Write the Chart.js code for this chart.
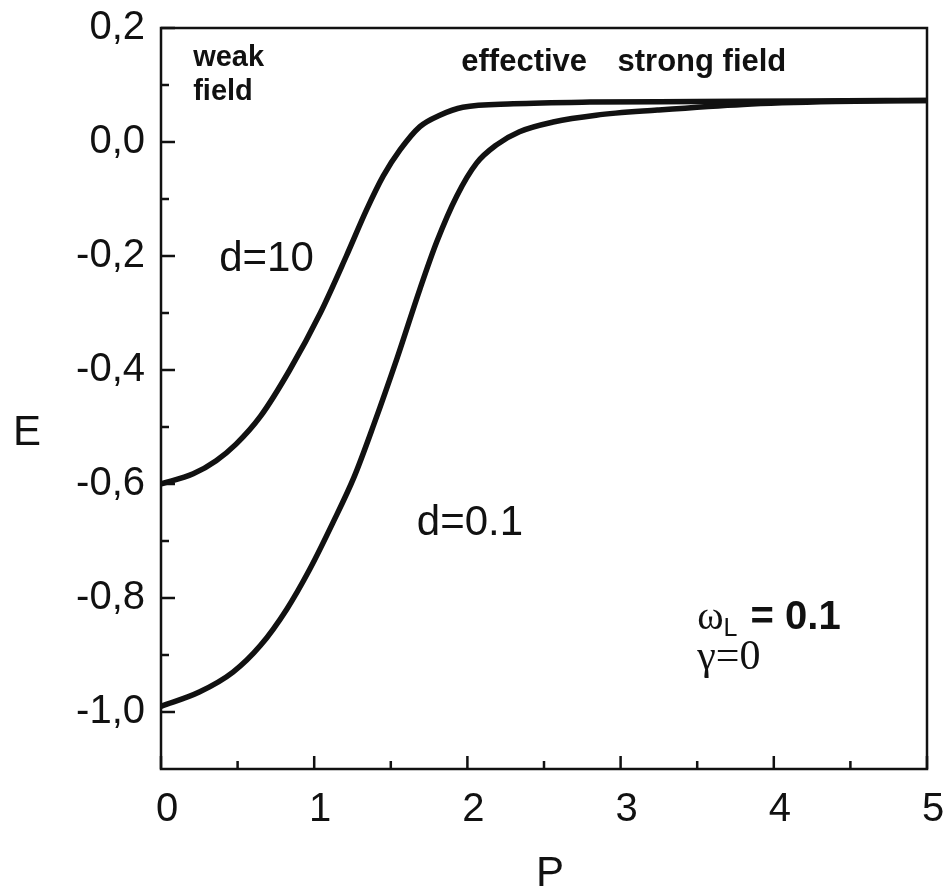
<!DOCTYPE html>
<html>
<head>
<meta charset="utf-8">
<script src="https://cdn.jsdelivr.net/npm/chart.js@4.4.1/dist/chart.umd.min.js"></script>
<style>
  html, body { margin: 0; padding: 0; background: #ffffff; }
  #wrap { width: 946px; height: 893px; }
</style>
</head>
<body>
<div id="wrap"><canvas id="energyChart" width="946" height="893"></canvas></div>
<script>
// values: E(P) for two values of d
var pD10 = [0, 0.21, 0.36, 0.49, 0.65, 0.84, 1.04, 1.21, 1.34, 1.45, 1.56, 1.69, 1.82, 1.97, 2.3, 2.8, 3.5, 4.2, 5.0];
var eD10 = [-0.60, -0.582, -0.559, -0.530, -0.481, -0.40, -0.30, -0.20, -0.12, -0.06, -0.014, 0.027, 0.047, 0.061, 0.067, 0.070, 0.071, 0.072, 0.073];

var pD01 = [0, 0.25, 0.47, 0.65, 0.82, 0.97, 1.12, 1.26, 1.39, 1.54, 1.69, 1.80, 1.93, 2.06, 2.19, 2.34, 2.56, 2.84, 3.24, 3.8, 4.4, 5.0];
var eD01 = [-0.99, -0.965, -0.93, -0.883, -0.82, -0.75, -0.669, -0.588, -0.495, -0.38, -0.258, -0.175, -0.095, -0.037, -0.005, 0.018, 0.035, 0.047, 0.056, 0.066, 0.071, 0.073];

var xTicks = [0, 1, 2, 3, 4, 5];
var xMinorTicks = [0.5, 1.5, 2.5, 3.5, 4.5];
var yTicks = [-1.0, -0.8, -0.6, -0.4, -0.2, 0.0, 0.2];
var yMinorTicks = [-0.9, -0.7, -0.5, -0.3, -0.1, 0.1];

function toPoints(xs, ys) {
    var out = [];
    for (var i = 0; i < xs.length; i++) {
        out.push({ x: xs[i], y: ys[i] });
    }
    return out;
}

var ink = "#111111";
var sans = "'Liberation Sans', Arial, sans-serif";
var serif = "'Liberation Serif', 'Times New Roman', serif";

// frame, inward ticks, axis titles and notes
var framePlugin = {
    id: "framePlugin",
    afterDraw: function (chart) {
        var ctx = chart.ctx;
        var a = chart.chartArea;
        var xs = chart.scales.x;
        var ys = chart.scales.y;

        ctx.save();
        ctx.strokeStyle = ink;
        ctx.lineWidth = 2.5;
        ctx.strokeRect(a.left, a.top, a.right - a.left, a.bottom - a.top);

        ctx.beginPath();
        yTicks.forEach(function (v) {
            var py = ys.getPixelForValue(v);
            ctx.moveTo(a.left, py);
            ctx.lineTo(a.left + 14, py);
        });
        yMinorTicks.forEach(function (v) {
            var py = ys.getPixelForValue(v);
            ctx.moveTo(a.left, py);
            ctx.lineTo(a.left + 8, py);
        });
        xTicks.forEach(function (v) {
            var px = xs.getPixelForValue(v);
            ctx.moveTo(px, a.bottom);
            ctx.lineTo(px, a.bottom - 13);
        });
        xMinorTicks.forEach(function (v) {
            var px = xs.getPixelForValue(v);
            ctx.moveTo(px, a.bottom);
            ctx.lineTo(px, a.bottom - 8);
        });
        ctx.stroke();

        ctx.fillStyle = ink;
        ctx.textBaseline = "alphabetic";
        ctx.textAlign = "left";

        // axis titles (upright, as in the figure)
        ctx.font = "42px " + sans;
        ctx.fillText("E", 13, 445);
        ctx.fillText("P", 536, 886);

        function at(p, e) {
            return [xs.getPixelForValue(p), ys.getPixelForValue(e)];
        }

        var q;
        ctx.font = "bold 29px " + sans;
        q = at(0.21, 0.134); ctx.fillText("weak", q[0], q[1]);
        q = at(0.21, 0.074); ctx.fillText("field", q[0], q[1]);
        ctx.font = "bold 31px " + sans;
        q = at(1.96, 0.124); ctx.fillText("effective", q[0], q[1]);
        q = at(2.98, 0.124); ctx.fillText("strong field", q[0], q[1]);

        ctx.font = "42px " + sans;
        q = at(0.38, -0.226); ctx.fillText("d=10", q[0], q[1]);
        q = at(1.67, -0.69); ctx.fillText("d=0.1", q[0], q[1]);

        q = at(3.5, -0.855);
        ctx.font = "40px " + serif;
        ctx.fillText("\u03c9", q[0], q[1]);
        var w = ctx.measureText("\u03c9").width;
        ctx.font = "25px " + sans;
        ctx.fillText("L", q[0] + w, q[1] + 7);
        var w2 = ctx.measureText("L").width;
        ctx.font = "bold 40px " + sans;
        ctx.fillText(" = 0.1", q[0] + w + w2 + 2, q[1]);

        q = at(3.5, -0.925);
        ctx.font = "42px " + serif;
        ctx.fillText("\u03b3=0", q[0], q[1]);

        ctx.restore();
    }
};

function commaLabel(value) {
    var s = Math.abs(value) < 1e-9 ? "0.0" : value.toFixed(1);
    return s.replace(".", ",");
}

new Chart(document.getElementById("energyChart").getContext("2d"), {
    type: "scatter",
    data: {
        datasets: [
            {
                label: "d=10",
                data: toPoints(pD10, eD10),
                showLine: true,
                borderColor: ink,
                borderWidth: 5.5,
                pointRadius: 0,
                cubicInterpolationMode: "monotone",
                fill: false
            },
            {
                label: "d=0.1",
                data: toPoints(pD01, eD01),
                showLine: true,
                borderColor: ink,
                borderWidth: 5.5,
                pointRadius: 0,
                cubicInterpolationMode: "monotone",
                fill: false
            }
        ]
    },
    options: {
        responsive: false,
        animation: false,
        layout: { padding: { left: 0, top: 28, right: 19, bottom: 0 } },
        plugins: {
            legend: { display: false },
            tooltip: { enabled: false }
        },
        scales: {
            x: {
                type: "linear",
                min: 0,
                max: 5,
                afterBuildTicks: function (scale) {
                    scale.ticks = xTicks.map(function (v) { return { value: v }; });
                },
                afterFit: function (scale) {
                    scale.height = 124;
                    scale.paddingLeft = 0;
                    scale.paddingRight = 0;
                },
                grid: { display: false, drawTicks: false },
                border: { display: false },
                ticks: {
                    color: ink,
                    padding: 17,
                    labelOffset: 6,
                    maxRotation: 0,
                    font: { family: sans, size: 40 },
                    callback: function (v) { return String(v); }
                }
            },
            y: {
                type: "linear",
                min: -1.1,
                max: 0.2,
                afterBuildTicks: function (scale) {
                    scale.ticks = yTicks.map(function (v) { return { value: v }; });
                },
                afterFit: function (scale) {
                    scale.width = 161;
                    scale.paddingTop = 0;
                    scale.paddingBottom = 0;
                },
                grid: { display: false, drawTicks: false },
                border: { display: false },
                ticks: {
                    color: ink,
                    padding: 16,
                    font: { family: sans, size: 40 },
                    callback: function (v) { return commaLabel(v); }
                }
            }
        }
    },
    plugins: [framePlugin]
});
</script>
</body>
</html>
